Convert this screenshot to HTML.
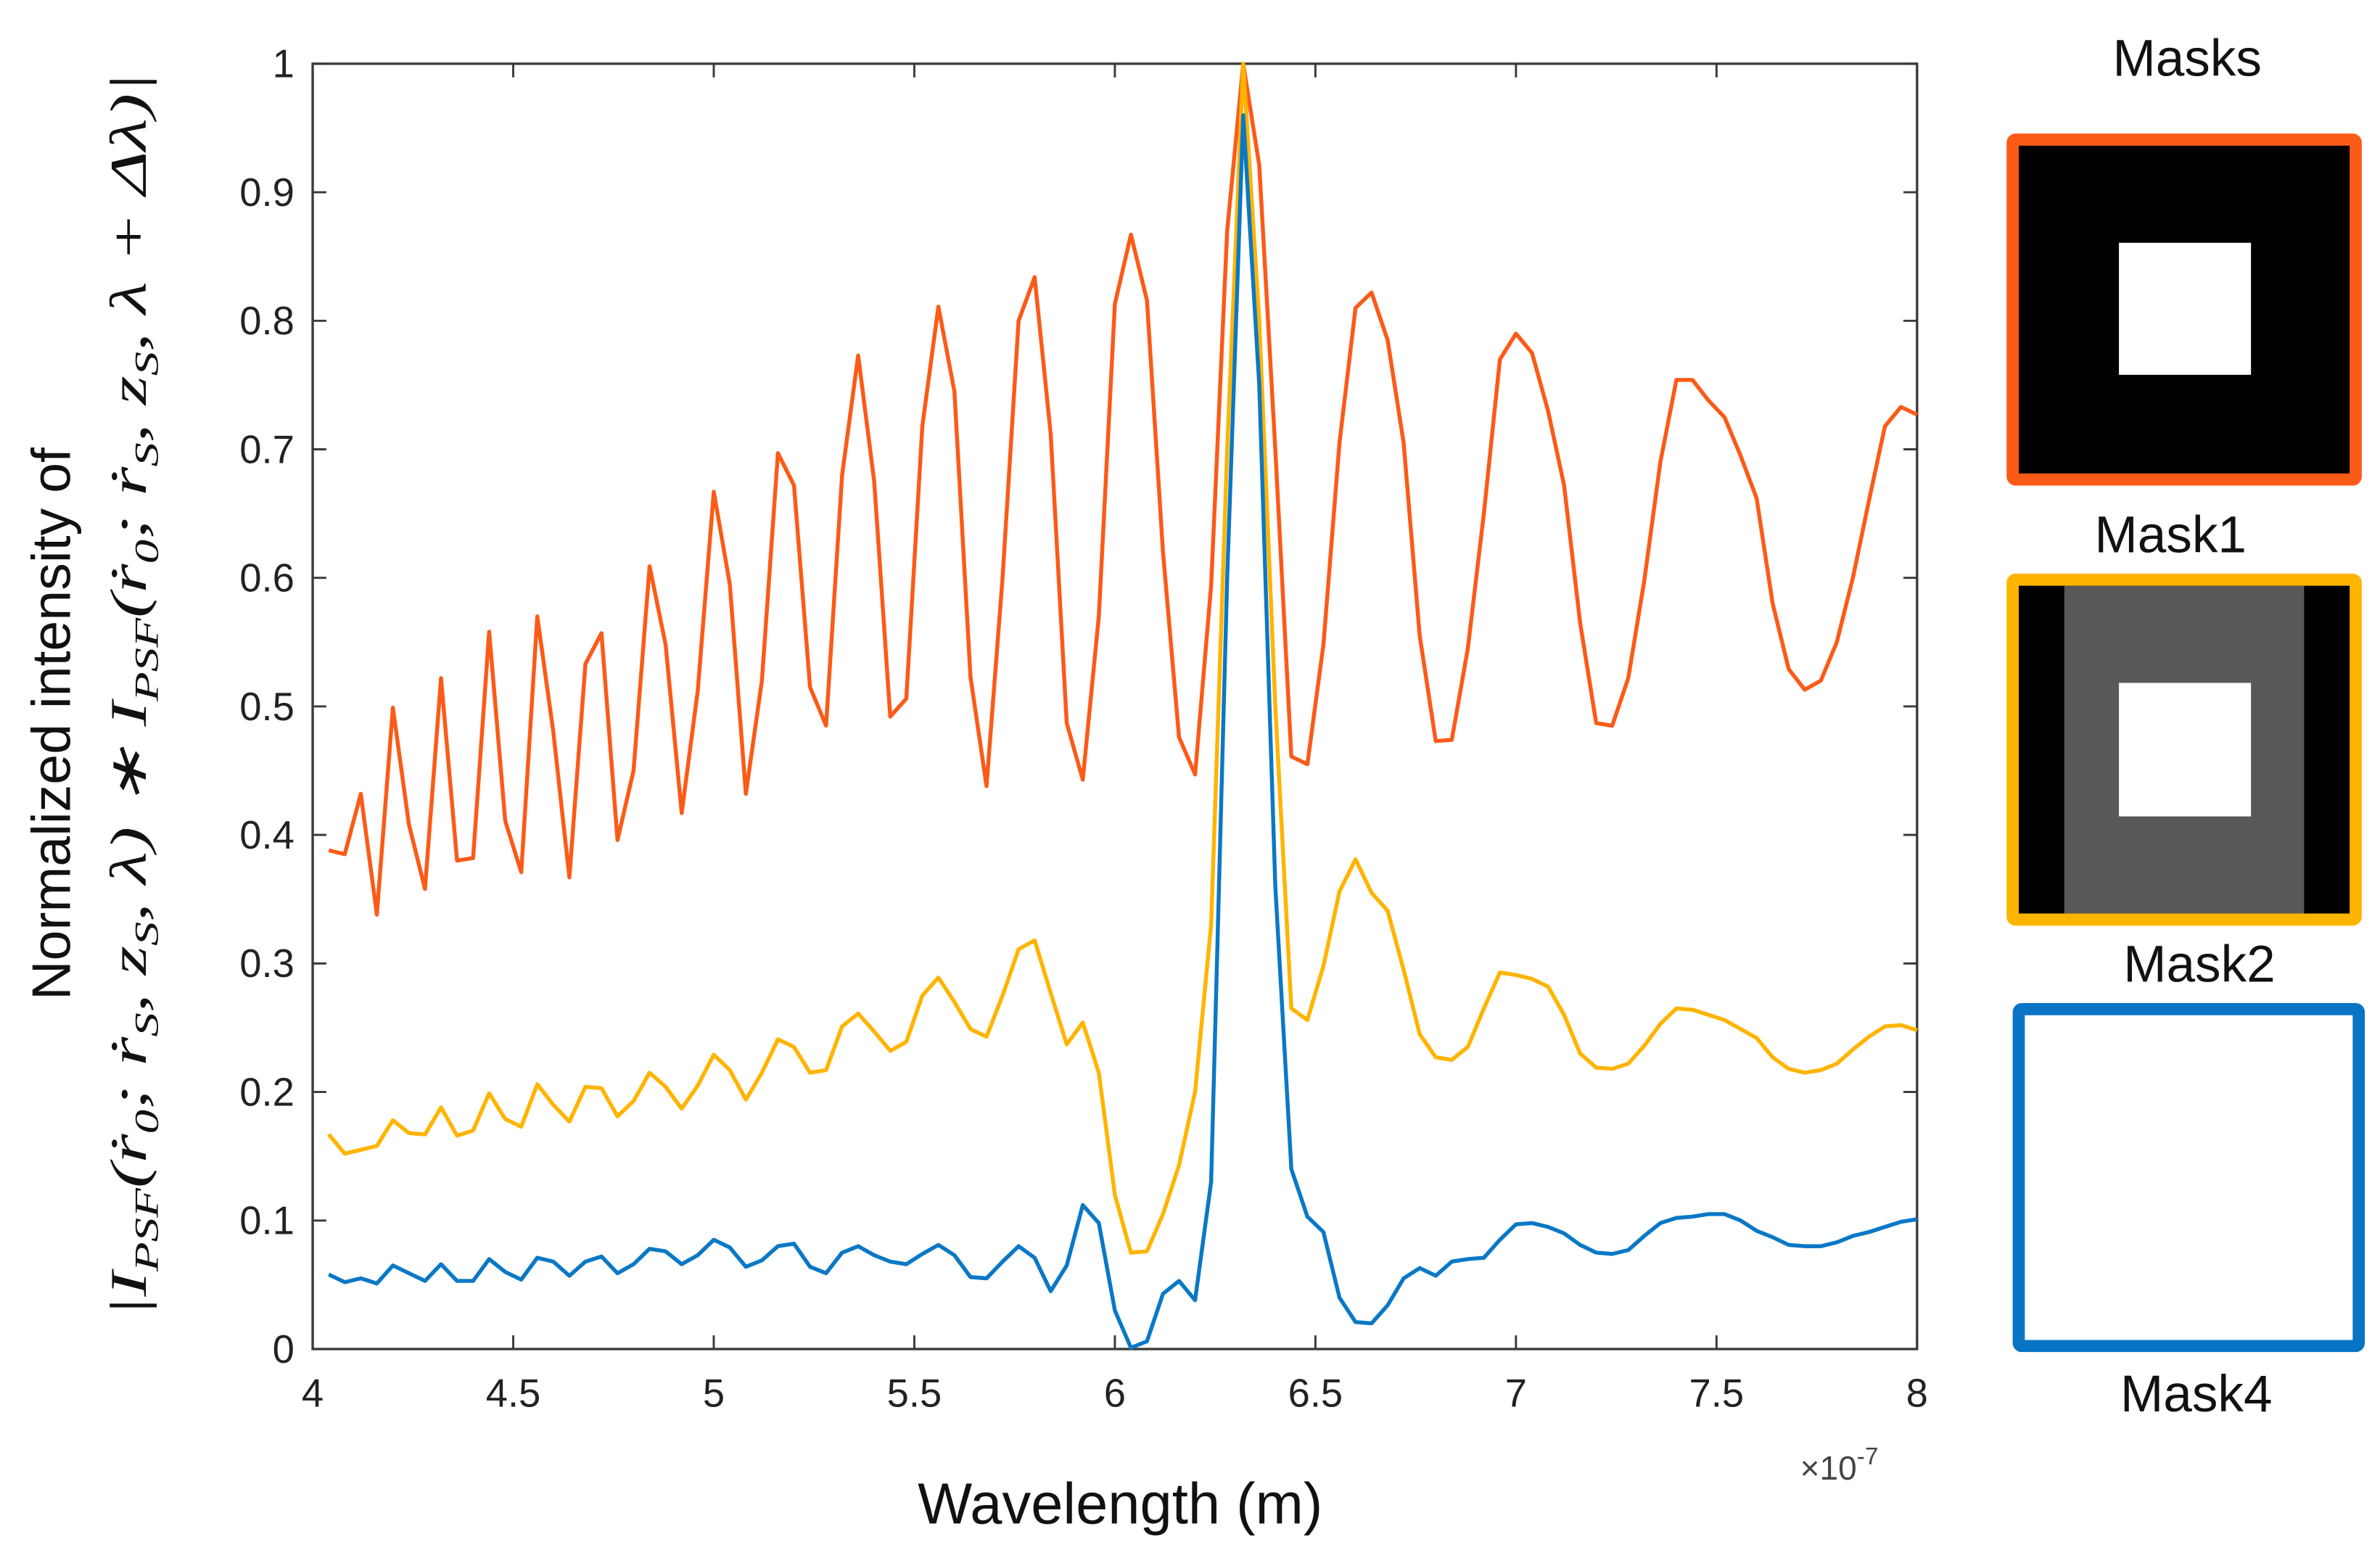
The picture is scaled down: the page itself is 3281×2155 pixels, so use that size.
<!DOCTYPE html>
<html><head><meta charset="utf-8"><style>
html,body{margin:0;padding:0;background:#fff;}
svg{display:block;}
</style></head><body>
<svg id="chart" width="3281" height="2155" viewBox="0 0 1568 1030" preserveAspectRatio="none" xmlns="http://www.w3.org/2000/svg" font-family="Liberation Sans, sans-serif">
<g id="plot"></g>
<text x="1186" y="975" font-size="22" fill="#444">×10<tspan dy="-10" font-size="16">-7</tspan></text>
<text x="738" y="1004" font-size="38" text-anchor="middle" fill="#111">Wavelength (m)</text>
<text transform="translate(46,477) rotate(-90)" font-size="36" text-anchor="middle" fill="#111">Normalized intensity of</text>
<text transform="translate(96,458) rotate(-90)" font-size="34" text-anchor="middle" fill="#111" style="font-family:'Liberation Serif',serif;font-style:italic" textLength="820" lengthAdjust="spacingAndGlyphs">|I<tspan font-size="22" dy="8">PSF</tspan><tspan dy="-8">(ṙ</tspan><tspan font-size="22" dy="8">0</tspan><tspan dy="-8">; ṙ</tspan><tspan font-size="22" dy="8">S</tspan><tspan dy="-8">, z</tspan><tspan font-size="22" dy="8">S</tspan><tspan dy="-8">, λ) ∗ I</tspan><tspan font-size="22" dy="8">PSF</tspan><tspan dy="-8">(ṙ</tspan><tspan font-size="22" dy="8">0</tspan><tspan dy="-8">; ṙ</tspan><tspan font-size="22" dy="8">S</tspan><tspan dy="-8">, z</tspan><tspan font-size="22" dy="8">S</tspan><tspan dy="-8">, λ + Δλ)|</tspan></text>

<text x="1441" y="50" font-size="34" text-anchor="middle" fill="#111">Masks</text>
<g>
<rect x="1326" y="92" width="226" height="224" fill="#000" stroke="#fc5a17" stroke-width="8" rx="2"/>
<rect x="1396" y="160" width="87" height="87" fill="#fff"/>
</g>
<text x="1430" y="364" font-size="34" text-anchor="middle" fill="#111">Mask1</text>
<g>
<rect x="1326" y="382" width="226" height="224" fill="#000" stroke="#ffb400" stroke-width="8" rx="2"/>
<rect x="1360" y="386" width="158" height="216" fill="#585858"/>
<rect x="1396" y="450" width="87" height="88" fill="#fff"/>
</g>
<text x="1449" y="647" font-size="34" text-anchor="middle" fill="#111">Mask2</text>
<g>
<rect x="1330" y="665" width="224" height="222" fill="#fff" stroke="#0a74c4" stroke-width="8" rx="2"/>
</g>
<text x="1447" y="930" font-size="34" text-anchor="middle" fill="#111">Mask4</text>
</svg>
<script>
const wavelengths=[4.04,4.08,4.12,4.16,4.20,4.24,4.28,4.32,4.36,4.40,4.44,4.48,4.52,4.56,4.60,4.64,4.68,4.72,4.76,4.80,4.84,4.88,4.92,4.96,5.00,5.04,5.08,5.12,5.16,5.20,5.24,5.28,5.32,5.36,5.40,5.44,5.48,5.52,5.56,5.60,5.64,5.68,5.72,5.76,5.80,5.84,5.88,5.92,5.96,6.00,6.04,6.08,6.12,6.16,6.20,6.24,6.28,6.32,6.36,6.40,6.44,6.48,6.52,6.56,6.60,6.64,6.68,6.72,6.76,6.80,6.84,6.88,6.92,6.96,7.00,7.04,7.08,7.12,7.16,7.20,7.24,7.28,7.32,7.36,7.40,7.44,7.48,7.52,7.56,7.60,7.64,7.68,7.72,7.76,7.80,7.84,7.88,7.92,7.96,8.00];
const mask1Values=[.388,.385,.432,.338,.499,.408,.358,.522,.380,.382,.558,.411,.371,.570,.480,.367,.533,.557,.396,.450,.609,.548,.417,.512,.667,.595,.432,.520,.697,.672,.515,.485,.680,.773,.675,.492,.506,.718,.811,.745,.523,.438,.600,.800,.834,.712,.487,.443,.570,.813,.867,.816,.620,.476,.447,.594,.870,1.0,.921,.700,.461,.455,.548,.705,.810,.822,.785,.705,.555,.473,.474,.545,.650,.770,.790,.775,.730,.672,.565,.487,.485,.522,.598,.690,.754,.754,.738,.725,.695,.662,.580,.529,.513,.520,.550,.600,.660,.718,.733,.727];
const mask2Values=[.167,.152,.155,.158,.178,.168,.167,.188,.166,.170,.199,.179,.173,.206,.190,.177,.204,.203,.181,.193,.215,.204,.187,.205,.229,.217,.194,.215,.241,.235,.215,.217,.251,.261,.247,.232,.239,.275,.289,.270,.249,.243,.275,.311,.318,.277,.237,.254,.215,.120,.075,.076,.105,.143,.200,.330,.700,1.0,.800,.500,.265,.256,.298,.356,.381,.355,.341,.295,.245,.227,.225,.235,.265,.293,.291,.288,.282,.260,.230,.219,.218,.222,.236,.253,.265,.264,.260,.256,.249,.242,.227,.218,.215,.217,.222,.233,.243,.251,.252,.248];
const mask4Values=[.058,.052,.055,.051,.065,.059,.053,.066,.053,.053,.070,.060,.054,.071,.068,.057,.068,.072,.059,.066,.078,.076,.066,.073,.085,.079,.064,.069,.080,.082,.064,.059,.075,.080,.073,.068,.066,.074,.081,.073,.056,.055,.068,.080,.071,.045,.065,.112,.098,.030,.001,.006,.043,.053,.038,.130,.600,.960,.750,.360,.140,.103,.091,.040,.021,.020,.034,.055,.063,.057,.068,.070,.071,.085,.097,.098,.095,.090,.081,.075,.074,.077,.088,.098,.102,.103,.105,.105,.100,.092,.087,.081,.080,.080,.083,.088,.091,.095,.099,.101];
const xTickValues=[4,4.5,5,5.5,6,6.5,7,7.5,8];
const xTickLabels=["4","4.5","5","5.5","6","6.5","7","7.5","8"];
const yTickValues=[0,0.1,0.2,0.3,0.4,0.5,0.6,0.7,0.8,0.9,1];
const yTickLabels=["0","0.1","0.2","0.3","0.4","0.5","0.6","0.7","0.8","0.9","1"];

const L=206,R=1263,T=42,B=889,NS="http://www.w3.org/2000/svg";
const sx=v=>L+(v-4)/4*(R-L);
const sy=v=>B-v*(B-T);
const g=document.getElementById('plot');
function mk(tag,attrs){const e=document.createElementNS(NS,tag);for(const k in attrs)e.setAttribute(k,attrs[k]);g.appendChild(e);return e;}

const box=mk('rect',{x:L,y:T,width:R-L,height:B-T,fill:'none',stroke:'#3a3a3a','stroke-width':1.6});



xTickValues.forEach((v,i)=>{
  const t=mk('path',{d:`M${sx(v)},${B}V${B-9}M${sx(v)},${T}V${T+9}`,stroke:'#3a3a3a','stroke-width':1.4});
  
  
  const lb=mk('text',{x:sx(v),y:927,'font-size':26,'text-anchor':'middle',fill:'#222'});
  lb.textContent=xTickLabels[i];
  
  
});
yTickValues.forEach((v,i)=>{
  const t=mk('path',{d:`M${L},${sy(v)}H${L+9}M${R},${sy(v)}H${R-9}`,stroke:'#3a3a3a','stroke-width':1.4});
  
  
  const lb=mk('text',{x:194,y:sy(v)+9,'font-size':26,'text-anchor':'end',fill:'#222'});
  lb.textContent=yTickLabels[i];
  
  
});

function line(vals,color,name){
  const d=vals.map((v,i)=>(i?'L':'M')+sx(wavelengths[i]).toFixed(2)+','+sy(v).toFixed(2)).join('');
  const p=mk('path',{d:d,fill:'none',stroke:color,'stroke-width':2.6,'stroke-linejoin':'round'});
  
  
}
line(mask1Values,'#fc5a17','mask1-series');
line(mask2Values,'#ffb400','mask2-series');
line(mask4Values,'#0a78c6','mask4-series');
</script>
</body></html>
